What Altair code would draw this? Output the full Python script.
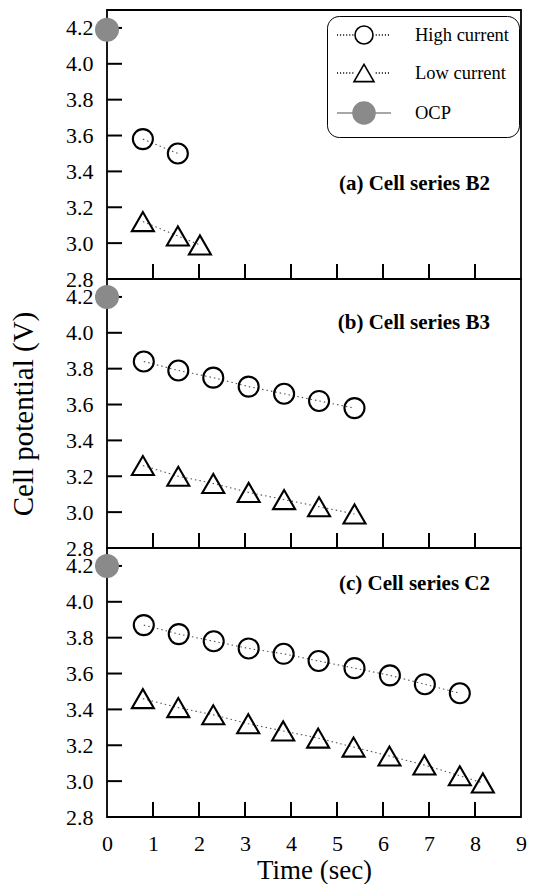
import altair as alt
import pandas as pd

# ---------------- data ----------------
series_names = ["High current", "Low current", "OCP"]
panel_titles = ["(a) Cell series B2", "(b) Cell series B3", "(c) Cell series C2"]
x_tick_values = [1, 2, 3, 4, 5, 6, 7, 8]
x_label_values = [0, 1, 2, 3, 4, 5, 6, 7, 8, 9]
y_tick_values = [3.0, 3.2, 3.4, 3.6, 3.8, 4.0, 4.2]
y_label_values = [2.8, 3.0, 3.2, 3.4, 3.6, 3.8, 4.0, 4.2]

ocp_t = [0.0]

a_high_t = [0.78, 1.54]
a_high_v = [3.58, 3.50]
a_low_t = [0.78, 1.54, 2.02]
a_low_v = [3.12, 3.04, 2.99]
a_ocp_v = [4.19]

b_high_t = [0.80, 1.55, 2.31, 3.08, 3.85, 4.61, 5.38]
b_high_v = [3.84, 3.79, 3.75, 3.70, 3.66, 3.62, 3.58]
b_low_t = [0.78, 1.55, 2.31, 3.08, 3.85, 4.61, 5.38]
b_low_v = [3.26, 3.20, 3.16, 3.11, 3.07, 3.03, 2.99]
b_ocp_v = [4.20]

c_high_t = [0.80, 1.56, 2.32, 3.08, 3.84, 4.60, 5.38, 6.15, 6.91, 7.67]
c_high_v = [3.87, 3.82, 3.78, 3.74, 3.71, 3.67, 3.63, 3.59, 3.54, 3.49]
c_low_t = [0.78, 1.55, 2.31, 3.07, 3.83, 4.59, 5.36, 6.14, 6.90, 7.67, 8.17]
c_low_v = [3.46, 3.41, 3.37, 3.32, 3.28, 3.24, 3.19, 3.14, 3.09, 3.03, 2.99]
c_ocp_v = [4.20]

# ---------------- style ----------------
FONT = "Liberation Serif"
W, H = 414, 269
TICK = 15
GRAY = "#8a8a8a"


def dots(a, b, step=0.34):
    s = ""
    x = a
    while x < b:
        s += f"M{x:.2f},0h0.12"
        x += step
    return s


circ = "M1,0A1,1 0 1,1 -1,0A1,1 0 1,1 1,0Z"
path_high = circ + dots(-3.0, -1.2) + dots(1.3, 3.0)
path_low = "M0,-0.96L1.11,0.96L-1.11,0.96Z" + dots(-3.0, -1.2) + dots(1.3, 3.0)
path_ocp = "M-3,0H-1.2M1.2,0H3M1.22,0A1.22,1.22 0 1,1 -1.22,0A1.22,1.22 0 1,1 1.22,0Z"

xscale = alt.Scale(domain=[0, 9], nice=False, zero=False)
yscale = alt.Scale(domain=[2.8, 4.3], nice=False, zero=False)


def X(show):
    if show:
        ax = alt.Axis(values=x_label_values, format="d", title="Time (sec)",
                      labelFlush=False, labelPadding=16, titlePadding=3,
                      ticks=False, domain=False, grid=False)
    else:
        ax = None
    return alt.X("t:Q", scale=xscale, axis=ax)


def Y(title):
    ax = alt.Axis(values=y_label_values, format=".1f", labelPadding=14,
                  ticks=False, domain=False, grid=False, titlePadding=27,
                  title=title if title else "")
    return alt.Y("v:Q", scale=yscale, axis=ax)


def panel(high_t, high_v, low_t, low_v, ocp_v, label, label_y, show_x, ytitle, legend):
    hi = pd.DataFrame({"t": high_t, "v": high_v})
    lo = pd.DataFrame({"t": low_t, "v": low_v})
    oc = pd.DataFrame({"t": ocp_t, "v": ocp_v})
    xt = pd.DataFrame({"t": x_tick_values})
    yt = pd.DataFrame({"v": y_tick_values})
    x = X(show_x)
    y = Y(ytitle)

    layers = [
        alt.Chart(xt).mark_rule(color="black", strokeWidth=2).encode(
            x=x, y=alt.value(H), y2=alt.value(H - TICK)),
        alt.Chart(yt).mark_rule(color="black", strokeWidth=2).encode(
            y=y, x=alt.value(0), x2=alt.value(TICK)),
        alt.Chart(hi).mark_line(color="#555555", strokeWidth=1.1, strokeDash=[1.5, 3]).encode(x=x, y=y),
        alt.Chart(lo).mark_line(color="#555555", strokeWidth=1.1, strokeDash=[1.5, 3]).encode(x=x, y=y),
        alt.Chart(hi).mark_point(shape="circle", size=400, filled=False, color="black",
                                 strokeWidth=2.1, opacity=1).encode(x=x, y=y),
        alt.Chart(lo).mark_point(shape="triangle-up", size=484, filled=False, color="black",
                                 strokeWidth=2.1, opacity=1).encode(x=x, y=y),
        alt.Chart(oc).mark_circle(size=576, color=GRAY, opacity=1).encode(x=x, y=y),
        alt.Chart(alt.Data(values=[{}])).mark_text(
            font=FONT, fontSize=21, fontWeight="bold", align="right", baseline="middle",
            color="black").encode(x=alt.value(383), y=alt.value(label_y), text=alt.value(label)),
    ]
    if legend:
        lg = alt.Legend(title=None, orient="none", legendX=220, legendY=6, padding=9,
                        symbolOffset=18, labelOffset=41, rowPadding=13,
                        strokeColor="black", cornerRadius=12, labelFont=FONT,
                        labelFontSize=18.5, labelColor="black", symbolSize=324,
                        symbolStrokeWidth=1.6, symbolOpacity=1, fillColor="white",
                        labelLimit=0)
        dummy = alt.Chart(alt.Data(values=[{"series": s} for s in series_names])).transform_filter(
            "false").mark_point(opacity=1).encode(
            shape=alt.Shape("series:N", scale=alt.Scale(domain=series_names,
                                                          range=[path_high, path_low, path_ocp]),
                            legend=lg),
            fill=alt.Fill("series:N", scale=alt.Scale(domain=series_names,
                                                        range=["transparent", "transparent", GRAY]),
                          legend=lg),
            stroke=alt.Stroke("series:N", scale=alt.Scale(domain=series_names,
                                                            range=["black", "black", GRAY]),
                              legend=lg),
        )
        layers.append(dummy)
    return alt.layer(*layers).properties(width=W, height=H)


pa = panel(a_high_t, a_high_v, a_low_t, a_low_v, a_ocp_v, panel_titles[0], 174, False, None, True)
pb = panel(b_high_t, b_high_v, b_low_t, b_low_v, b_ocp_v, panel_titles[1], 44, False,
           "Cell potential (V)", False)
pc = panel(c_high_t, c_high_v, c_low_t, c_low_v, c_ocp_v, panel_titles[2], 36, True, None, False)

chart = alt.vconcat(pa, pb, pc, spacing=0, bounds="flush").properties(
    padding={"left": 8, "top": 9, "right": 6, "bottom": 0}
).configure_view(stroke="black", strokeWidth=1.8).configure_axis(
    labelFont=FONT, labelFontSize=22, labelColor="black",
    titleFont=FONT, titleFontSize=27, titleFontWeight="normal", titleColor="black"
).configure_axisY(titleFontSize=29)

chart.save("out.html", embed_options={"renderer": "svg", "actions": False})
